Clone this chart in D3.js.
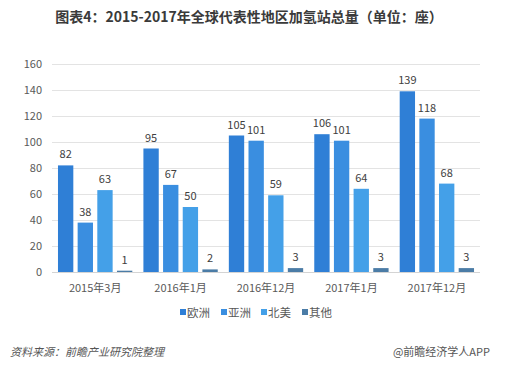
<!DOCTYPE html>
<html>
<head>
<meta charset="utf-8">
<script src="https://cdn.jsdelivr.net/npm/d3@7"></script>
<style>
  body { margin: 0; background: #fff; }
  text { font-family: "Microsoft YaHei", "Noto Sans CJK SC", sans-serif; }
</style>
</head>
<body>
<div id="chartArea"></div>
<script>
const categories = ['2015年3月', '2016年1月', '2016年12月', '2017年1月', '2017年12月']
const seriesNames = ['欧洲', '亚洲', '北美', '其他']
const europe = [82, 95, 105, 106, 139]
const asia = [38, 67, 101, 101, 118]
const northAmerica = [63, 50, 59, 64, 68]
const others = [1, 2, 3, 3, 3]
const yTicks = [0, 20, 40, 60, 80, 100, 120, 140, 160]

const seriesValues = [europe, asia, northAmerica, others]
const colors = ['#2f7fd6', '#3a8ee0', '#44a0e8', '#4b7ca6']

const width = 512
const height = 375
const margin = { left: 52, right: 32, top: 64, bottom: 103 }

const svg = d3.select('#chartArea').append('svg')
  .attr('width', width)
  .attr('height', height)

svg.append('rect').attr('width', width).attr('height', height).attr('fill', '#fff')

// title
svg.append('text')
  .attr('x', 249)
  .attr('y', 22)
  .attr('text-anchor', 'middle')
  .attr('font-size', 14)
  .attr('font-weight', 'bold')
  .attr('fill', '#3a3a3a')
  .text('图表4：2015-2017年全球代表性地区加氢站总量（单位：座）')

const x0 = d3.scaleBand()
  .domain(categories)
  .range([margin.left, width - margin.right])
  .paddingInner(0.13)
  .paddingOuter(0.07)

const x1 = d3.scaleBand()
  .domain(seriesNames)
  .range([0, x0.bandwidth()])
  .paddingInner(0.22)

const y = d3.scaleLinear()
  .domain([0, 160])
  .range([height - margin.bottom, margin.top])

// grid lines
svg.append('g')
  .selectAll('line')
  .data(yTicks)
  .enter()
  .append('line')
  .attr('x1', margin.left)
  .attr('x2', width - margin.right)
  .attr('y1', d => y(d) + 0.5)
  .attr('y2', d => y(d) + 0.5)
  .attr('stroke', d => d === 0 ? '#d4d4d4' : '#e3e3e3')
  .attr('stroke-width', 1)

// y labels
svg.append('g')
  .selectAll('text')
  .data(yTicks)
  .enter()
  .append('text')
  .attr('x', 42)
  .attr('y', d => y(d) + 4)
  .attr('text-anchor', 'end')
  .attr('font-size', 11)
  .attr('fill', '#595959')
  .text(d => d)

// bars
const groups = svg.append('g')
  .selectAll('g')
  .data(categories)
  .enter()
  .append('g')
  .attr('transform', d => 'translate(' + x0(d) + ',0)')

groups.each(function (cat, ci) {
  const g = d3.select(this)
  seriesNames.forEach((name, si) => {
    const v = seriesValues[si][ci]
    g.append('rect')
      .attr('x', x1(name))
      .attr('y', y(v))
      .attr('width', x1.bandwidth())
      .attr('height', y(0) - y(v))
      .attr('fill', colors[si])
    g.append('text')
      .attr('x', x1(name) + x1.bandwidth() / 2)
      .attr('y', y(v) - 7)
      .attr('text-anchor', 'middle')
      .attr('font-size', 11)
      .attr('fill', '#404040')
      .text(v)
  })
})

// x labels
svg.append('g')
  .selectAll('text')
  .data(categories)
  .enter()
  .append('text')
  .attr('x', d => x0(d) + x0.bandwidth() / 2)
  .attr('y', 292)
  .attr('text-anchor', 'middle')
  .attr('font-size', 11)
  .attr('fill', '#595959')
  .text(d => d)

// legend
const legendX = [180, 221, 261, 302]
const legend = svg.append('g')
  .selectAll('g')
  .data(seriesNames)
  .enter()
  .append('g')
  .attr('transform', (d, i) => 'translate(' + legendX[i] + ',313)')

legend.append('rect')
  .attr('x', 0)
  .attr('y', -4)
  .attr('width', 6)
  .attr('height', 6)
  .attr('fill', (d, i) => colors[i])

legend.append('text')
  .attr('x', 7)
  .attr('y', 4)
  .attr('font-size', 11.5)
  .attr('fill', '#595959')
  .text(d => d)

// footer
svg.append('text')
  .attr('x', 10)
  .attr('y', 356)
  .attr('font-size', 11)
  .attr('font-style', 'italic')
  .attr('fill', '#555')
  .text('资料来源：前瞻产业研究院整理')

svg.append('text')
  .attr('x', 490)
  .attr('y', 356)
  .attr('text-anchor', 'end')
  .attr('font-size', 11)
  .attr('fill', '#555')
  .text('@前瞻经济学人APP')
</script>
</body>
</html>
